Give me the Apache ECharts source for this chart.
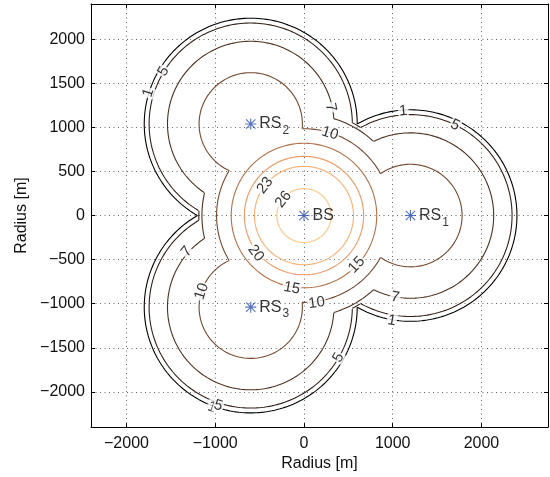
<!DOCTYPE html>
<html>
<head>
<meta charset="utf-8">
<script src="https://cdn.jsdelivr.net/npm/echarts@6/dist/echarts.min.js"></script>
<style>
  html, body { margin: 0; padding: 0; background: #fff; }
  #main { width: 550px; height: 477px; }
</style>
</head>
<body>
<div id="main"></div>
<script>
// contour levels, and how far (m) each level reaches around the BS and around every RS
var levels   = [1, 5, 7, 10, 15, 20, 23, 26];
var bsRadius = [1195, 1185, 1150, 985, 820, 672, 558, 306];
var rsRadius = [1200, 1145, 938, 582, null, null, null, null];

// stations (m)
var stationNames = ['BS', 'RS1', 'RS2', 'RS3'];
var stationX = [0, 1200, -600, -600];
var stationY = [0, 0, 1039, -1039];

// inline contour labels (m) and their angle
var labelText  = ['5', '1', '7', '10', '1', '5', '23', '26', '20', '15', '15', '7', '10', '10', '7', '1', '5', '1', '5'];
var labelX     = [-1584, -1753, 302, 294, 1120, 1703, -438, -232, -543, 595, -137, -1321, -1152, 144, 1027, 989, 388, -1036, -965];
var labelY     = [1637, 1394, 1225, 932, 1186, 1025, 341, 184, -428, -560, -823, -409, -860, -992, -927, -1191, -1611, -2174, -2155];
var labelAngle = [60, 72, -78, -17, 5, -26, 52, 52, -52, 47, -10, 50, 72, 8, -11, -10, 60, -20, -18];

// copper colormap, one colour per level
var levelColors = ['#000000', '#33201a', '#4d301e', '#73482e', '#b37047', '#f29760', '#ffaf70', '#ffc77f'];

var FONT = 'Liberation Sans, Arial, Helvetica, sans-serif';

// visible arcs of one circle: the parts not inside any other circle of the same level
function arcs(c, others) {
  var n = 720;
  function inside(a) {
    var x = c[0] + c[2] * Math.cos(a), y = c[1] + c[2] * Math.sin(a);
    for (var i = 0; i < others.length; i++) {
      var o = others[i];
      if (Math.hypot(x - o[0], y - o[1]) < o[2]) return true;
    }
    return false;
  }
  function pt(a) { return [c[0] + c[2] * Math.cos(a), c[1] + c[2] * Math.sin(a)]; }
  function edge(a0, a1) {
    var h0 = inside(a0);
    for (var k = 0; k < 30; k++) {
      var m = (a0 + a1) / 2;
      if (inside(m) === h0) a0 = m; else a1 = m;
    }
    return (a0 + a1) / 2;
  }
  var step = 2 * Math.PI / n;
  var start = -1;
  for (var k = 0; k < n; k++) if (inside(k * step)) { start = k; break; }
  if (start < 0) {
    var full = [];
    for (var k = 0; k <= n; k++) full.push(pt(k * step));
    return [full];
  }
  var out = [], cur = null;
  for (var j = 1; j <= n; j++) {
    var a = (start + j) * step, prev = a - step;
    var hid = inside(a);
    if (!hid && cur === null) {
      cur = [pt(edge(prev, a)), pt(a)];
    } else if (!hid) {
      cur.push(pt(a));
    } else if (cur !== null) {
      cur.push(pt(edge(prev, a)));
      out.push(cur);
      cur = null;
    }
  }
  if (cur) out.push(cur);
  return out;
}

var series = [];
levels.forEach(function (lev, li) {
  var circles = [[stationX[0], stationY[0], bsRadius[li]]];
  if (rsRadius[li] != null) {
    for (var s = 1; s < stationX.length; s++) circles.push([stationX[s], stationY[s], rsRadius[li]]);
  }
  circles.forEach(function (c, ci) {
    var others = circles.filter(function (o, oi) { return oi !== ci; });
    arcs(c, others).forEach(function (seg) {
      series.push({
        type: 'line',
        data: seg,
        showSymbol: false,
        silent: true,
        z: 2,
        lineStyle: { color: levelColors[li], width: 1.1 }
      });
    });
  });
});

// contour labels
series.push({
  type: 'scatter',
  symbolSize: 0,
  silent: true,
  z: 4,
  data: labelText.map(function (t, i) {
    return {
      value: [labelX[i], labelY[i]],
      label: {
        show: true, position: 'inside', formatter: t, rotate: labelAngle[i],
        color: '#000', fontSize: 15, fontFamily: FONT,
        backgroundColor: '#fff', padding: [0, 1, 0, 1]
      }
    };
  })
});

// stations
var star = 'path://M9,0h2v20h-2z M0,9h20v2h-20z M2.2,0.8L19.2,17.8L17.8,19.2L0.8,2.2z M17.8,0.8L19.2,2.2L2.2,19.2L0.8,17.8z';
series.push({
  type: 'scatter',
  symbol: star,
  symbolSize: 11,
  silent: true,
  z: 5,
  itemStyle: { color: '#2a4cb5' },
  data: stationNames.map(function (nm, i) {
    var txt = nm.length > 2 ? '{m|' + nm.slice(0, 2) + '}{s|' + nm.slice(2) + '}' : '{m|' + nm + '}';
    return {
      value: [stationX[i], stationY[i]],
      label: {
        show: true, position: 'right', distance: 3, formatter: txt,
        rich: {
          m: { fontSize: 16, color: '#000', fontFamily: FONT },
          s: { fontSize: 12, color: '#000', fontFamily: FONT, padding: [14, 0, 0, 1] }
        }
      }
    };
  })
});

function minus(v) { return String(v).replace('-', '\u2212'); }

var tickLabel = { color: '#111', fontSize: 16, fontFamily: FONT, formatter: minus, showMinLabel: false, showMaxLabel: false };
var gridLine = { show: true, showMinLine: false, showMaxLine: false, lineStyle: { color: '#666', width: 1, type: [1, 3.5] } };
var frame = { show: true, onZero: false, lineStyle: { color: '#000', width: 1 } };
var ticks = { show: true, inside: true, length: 4, lineStyle: { color: '#000' } };

var option = {
  animation: false,
  backgroundColor: '#fff',
  grid: { left: 91, right: 2, top: 4, bottom: 47, containLabel: false },
  xAxis: [
    {
      type: 'value', min: -2400, max: 2750, splitNumber: 5,
      name: 'Radius [m]', nameLocation: 'middle', nameGap: 25,
      nameTextStyle: { color: '#111', fontSize: 16, fontFamily: FONT },
      axisLine: frame, axisTick: ticks, splitLine: gridLine,
      axisLabel: Object.assign({ margin: 8 }, tickLabel)
    },
    {
      type: 'value', position: 'top', min: -2400, max: 2750, splitNumber: 5,
      axisLine: frame, axisTick: ticks, splitLine: { show: false }, axisLabel: { show: false }
    }
  ],
  yAxis: [
    {
      type: 'value', min: -2400, max: 2400, splitNumber: 10,
      name: 'Radius [m]', nameLocation: 'middle', nameGap: 58,
      nameTextStyle: { color: '#111', fontSize: 16, fontFamily: FONT },
      axisLine: frame, axisTick: ticks, splitLine: gridLine,
      axisLabel: Object.assign({ margin: 6 }, tickLabel)
    },
    {
      type: 'value', position: 'right', min: -2400, max: 2400, splitNumber: 10,
      axisLine: frame, axisTick: ticks, splitLine: { show: false }, axisLabel: { show: false }
    }
  ],
  series: series
};

var chart = echarts.init(document.getElementById('main'), null, { renderer: 'canvas' });
chart.setOption(option);
</script>
</body>
</html>
